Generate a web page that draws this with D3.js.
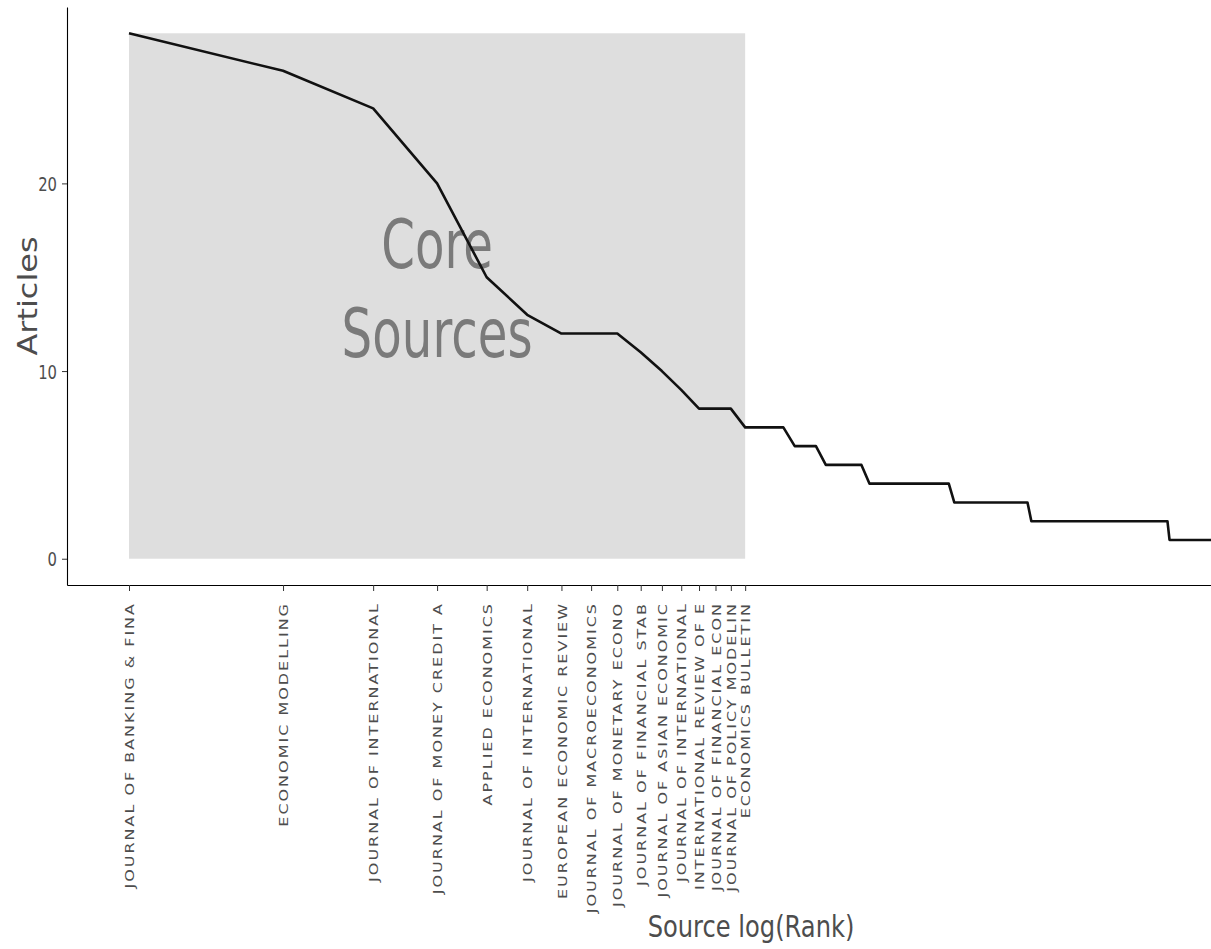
<!DOCTYPE html>
<html>
<head>
<meta charset="utf-8">
<script src="https://cdn.jsdelivr.net/npm/d3@7"></script>
<style>
  body { margin: 0; background: #fff; }
  svg { display: block; overflow: hidden; }
  text { font-family: "DejaVu Sans", sans-serif; }
</style>
</head>
<body>
<div id="chart"></div>
<script>
// --- data ---
const coreSources = [
  "JOURNAL OF BANKING & FINA", "ECONOMIC MODELLING", "JOURNAL OF INTERNATIONAL",
  "JOURNAL OF MONEY CREDIT A", "APPLIED ECONOMICS", "JOURNAL OF INTERNATIONAL",
  "EUROPEAN ECONOMIC REVIEW", "JOURNAL OF MACROECONOMICS", "JOURNAL OF MONETARY ECONO",
  "JOURNAL OF FINANCIAL STAB", "JOURNAL OF ASIAN ECONOMIC", "JOURNAL OF INTERNATIONAL",
  "INTERNATIONAL REVIEW OF E", "JOURNAL OF FINANCIAL ECON", "JOURNAL OF POLICY MODELIN",
  "ECONOMICS BULLETIN"
];
const coreArticles = [28, 26, 24, 20, 15, 13, 12, 12, 12, 11, 10, 9, 8, 8, 8, 7];

// the remaining sources, as (articles, number of sources) runs
const tailArticles = [7, 6, 5, 4, 3, 2, 1];
const tailCounts   = [3, 3, 5, 13, 17, 50, 158];

const yTicks = [0, 10, 20];

// build rank table
const articles = coreArticles.slice();
tailArticles.forEach((a, i) => { for (let k = 0; k < tailCounts[i]; k++) articles.push(a); });
const data = articles.map((a, i) => ({ rank: i + 1, logRank: Math.log(i + 1), freq: a }));
const nCore = coreSources.length;

// --- layout ---
const width = 1211, height = 949;
const plot = { left: 67, right: 1431, top: 7, bottom: 585 };

const svg = d3.select("#chart").append("svg").attr("width", width).attr("height", height);

const xMax = d3.max(data, d => d.logRank);
const xPad = xMax * 0.05;
const x = d3.scaleLinear().domain([-xPad, xMax + xPad]).range([plot.left, plot.right]);

const yMax = d3.max(data, d => d.freq);
const yPad = yMax * 0.05;
const y = d3.scaleLinear().domain([-yPad, yMax + yPad]).range([plot.bottom, plot.top]);

// core sources band
svg.append("rect")
  .attr("x", x(0))
  .attr("y", y(yMax))
  .attr("width", x(Math.log(nCore)) - x(0))
  .attr("height", y(0) - y(yMax))
  .attr("fill", "#dedede");

// annotation
const ann = svg.append("g")
  .attr("transform", `translate(${x(Math.log(nCore) / 2)},${y(yMax / 2)})`);
[["Core", -28], ["Sources", 61]].forEach(([t, dy]) => {
  ann.append("text")
    .attr("transform", `translate(0,${dy}) scale(0.71,1)`)
    .attr("text-anchor", "middle")
    .attr("font-size", 68)
    .attr("fill", "#7a7a7a")
    .text(t);
});

// line
const line = d3.line().x(d => x(d.logRank)).y(d => y(d.freq));
svg.append("path")
  .datum(data)
  .attr("d", line)
  .attr("fill", "none")
  .attr("stroke", "#111")
  .attr("stroke-width", 2.6)
  .attr("stroke-linejoin", "round");

// x axis
const xAxis = d3.axisBottom(x)
  .tickValues(d3.range(nCore).map(i => Math.log(i + 1)))
  .tickFormat((d, i) => coreSources[i])
  .tickSize(6)
  .tickSizeOuter(0);

const gx = svg.append("g").attr("transform", `translate(0,${plot.bottom})`).call(xAxis);
gx.select(".domain").attr("stroke", "#000").attr("stroke-width", 1.1);
gx.selectAll(".tick line").attr("stroke", "#333");
gx.selectAll(".tick text")
  .attr("x", null).attr("y", null).attr("dy", null)
  .attr("transform", "translate(4.6,17) rotate(-90) scale(1,0.8)")
  .attr("text-anchor", "end")
  .attr("font-size", 16)
  .attr("letter-spacing", 2)
  .attr("fill", "#4d4d4d")
  .attr("font-family", "DejaVu Sans");

// y axis
const yAxis = d3.axisLeft(y).tickValues(yTicks).tickSize(5).tickSizeOuter(0);
const gy = svg.append("g").attr("transform", `translate(${plot.left},0)`).call(yAxis);
gy.select(".domain").attr("stroke", "#000").attr("stroke-width", 1.1);
gy.selectAll(".tick line").attr("stroke", "#333");
gy.selectAll(".tick text")
  .attr("x", null)
  .attr("dy", "0.36em")
  .attr("transform", "translate(-10,0) scale(0.74,1)")
  .attr("text-anchor", "end")
  .attr("font-size", 20)
  .attr("fill", "#4d4d4d")
  .attr("font-family", "DejaVu Sans");

// axis titles
svg.append("text")
  .attr("transform", `translate(${(plot.left + plot.right) / 2 + 2},937) scale(0.78,1)`)
  .attr("text-anchor", "middle")
  .attr("font-size", 31)
  .attr("fill", "#4d4d4d")
  .text("Source log(Rank)");

svg.append("text")
  .attr("transform", `translate(37,${(plot.top + plot.bottom) / 2}) rotate(-90) scale(1.03,0.86)`)
  .attr("text-anchor", "middle")
  .attr("font-size", 31)
  .attr("fill", "#4d4d4d")
  .text("Articles");
</script>
</body>
</html>
